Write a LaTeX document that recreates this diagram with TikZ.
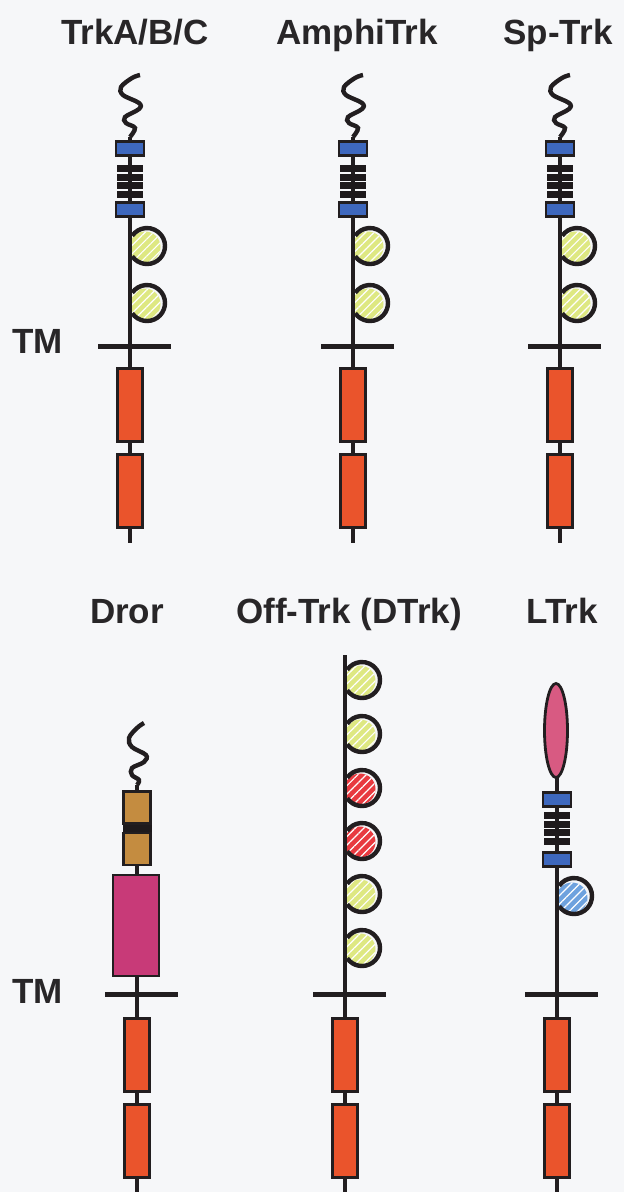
\documentclass[tikz,border=0pt]{standalone}
\usepackage{fontspec}
\setmainfont{Liberation Sans}
\usetikzlibrary{patterns.meta,shapes.geometric}
\definecolor{bgC}{RGB}{246,247,249}
\definecolor{lineC}{RGB}{34,30,32}
\definecolor{labC}{RGB}{40,38,40}
\definecolor{blueC}{RGB}{62,104,190}
\definecolor{stripeC}{RGB}{30,26,28}
\definecolor{yelC}{RGB}{222,232,130}
\definecolor{redcC}{RGB}{232,58,64}
\definecolor{bluelC}{RGB}{110,162,222}
\definecolor{redC}{RGB}{234,84,44}
\definecolor{brownC}{RGB}{196,140,64}
\definecolor{pinkC}{RGB}{200,58,120}
\definecolor{ellC}{RGB}{216,90,130}
\tikzset{
  ln/.style={line width=4.4pt, draw=lineC},
  tm/.style={line width=5pt, draw=lineC},
  box/.style={draw=lineC, line width=2.8pt, inner sep=0pt, rectangle},
  bluebox/.style={box, fill=blueC, minimum width=28pt, minimum height=14pt},
  redbox/.style={box, fill=redC, minimum width=25pt, minimum height=73pt},
  brownbox/.style={box, fill=brownC, minimum width=27pt, minimum height=32pt},
  stripe/.style={fill=stripeC, minimum width=26pt, minimum height=7pt, inner sep=0pt, rectangle},
  dom/.style={circle, minimum size=31pt, inner sep=0pt,
     postaction={pattern={Lines[angle=45,distance=6pt,line width=1.2pt]}, pattern color=white}},
  lab/.style={font=\fontsize{35}{40}\selectfont\bfseries, text=labC, inner sep=0pt, anchor=base},
}
% wave (squiggle) starting at top y=#2 on axis x=#1
\newcommand\mywave[2]{%
  \begin{scope}[shift={(#1,#2)}]
    \draw[ln] plot[smooth,tension=0.6] coordinates {(10,0) (2,3) (-9,12) (-7,20) (9,28) (9,34) (-5,42) (-4,48) (5,53) (0,62)};
  \end{scope}}
% domain loop: #1 axis x, #2 centre y, #3 colour, #4 name
\newcommand\myfill[4]{\node[dom, fill=#3] (#4) at ({#1+15},{#2+1}) {};}
\newcommand\myarc[2]{\draw[ln] ({#1+17},#2) ++(145:18) arc[start angle=145,end angle=-145,radius=18];}
% stripes: #1 axis x, #2 top y, #3 prefix
\newcommand\mystripes[3]{%
  \node[stripe] (#3s1) at (#1,{#2+3.5}) {};
  \node[stripe] (#3s2) at (#1,{#2+12}) {};
  \node[stripe] (#3s3) at (#1,{#2+20.5}) {};
  \node[stripe] (#3s4) at (#1,{#2+29}) {};}
% TM bar and two kinase boxes
\newcommand\mytail[4]{% #1 axis x, #2 TM y, #3 prefix, #4 red1 centre y
  \coordinate (#3tmL) at ({#1-32},#2);
  \coordinate (#3tmR) at ({#1+41},#2);
  \draw[tm] (#3tmL) -- (#3tmR);
  \node[redbox] (#3r1) at (#1,#4) {};
  \node[redbox] (#3r2) at (#1,{#4+86}) {};}
% top-row molecule
\newcommand\topmol[2]{%
  \coordinate (#2top) at (#1,137);
  \coordinate (#2end) at (#1,543);
  \myfill{#1}{246}{yelC}{#2d1}
  \myfill{#1}{303}{yelC}{#2d2}
  \draw[ln] (#2top) -- (#2end);
  \myarc{#1}{246}
  \myarc{#1}{303}
  \mywave{#1}{75}
  \node[bluebox] (#2b1) at (#1,148.5) {};
  \mystripes{#1}{165}{#2}
  \node[bluebox] (#2b2) at (#1,209.5) {};
  \mytail{#1}{346}{#2}{405}}
\begin{document}
\begin{tikzpicture}[x=1pt,y=-1pt]
\fill[bgC] (0,0) rectangle (624,1192);
\useasboundingbox (0,0) rectangle (624,1192);

% ---------- labels ----------
\node[lab] (L1) at (135,44) {TrkA/B/C};
\node[lab] (L2) at (357,44) {AmphiTrk};
\node[lab] (L3) at (558,44) {Sp-Trk};
\node[lab] (L4) at (127,623) {Dror};
\node[lab] (L5) at (349,623) {Off-Trk (DTrk)};
\node[lab] (L6) at (562,623) {LTrk};
\node[lab, anchor=base west] (TM1) at (12,353) {TM};
\node[lab, anchor=base west] (TM2) at (12,1003) {TM};

% ---------- top row ----------
\topmol{130}{ta}
\topmol{353}{tb}
\topmol{560}{tc}

% ---------- Dror ----------
\coordinate (dtop) at (137,785);
\coordinate (dend) at (137,1192);
\draw[ln] (dtop) -- (dend);
\begin{scope}[shift={(137,723)}]
  \draw[ln] plot[smooth,tension=0.6] coordinates {(7,0) (0,5) (-8,15) (-5,24) (9,32) (7,39) (-5,45) (-5,52) (2,57) (0,62)};
\end{scope}
\node[brownbox] (db1) at (137,807.5) {};
\node[fill=stripeC, minimum width=29pt, minimum height=7pt, inner sep=0pt] (dband) at (137,828.5) {};
\node[brownbox] (db2) at (137,849) {};
\node[box, fill=pinkC, minimum width=46pt, minimum height=101pt] (dpink) at (136,925.5) {};
\mytail{137}{994}{d}{1055}

% ---------- Off-Trk ----------
\coordinate (otop) at (345,655);
\coordinate (oend) at (345,1192);
\myfill{345}{680}{yelC}{o1}
\myfill{345}{734}{yelC}{o2}
\myfill{345}{788}{redcC}{o3}
\myfill{345}{841}{redcC}{o4}
\myfill{345}{894}{yelC}{o5}
\myfill{345}{948}{yelC}{o6}
\draw[ln] (otop) -- (oend);
\myarc{345}{680}
\myarc{345}{734}
\myarc{345}{788}
\myarc{345}{841}
\myarc{345}{894}
\myarc{345}{948}
\mytail{345}{994}{o}{1055}

% ---------- LTrk ----------
\coordinate (ltop) at (557,770);
\coordinate (lend) at (557,1192);
\myfill{557}{897}{bluelC}{l1}
\draw[ln] (ltop) -- (lend);
\myarc{557}{896}
\node[ellipse, draw=lineC, line width=2.8pt, fill=ellC, minimum width=23pt, minimum height=94pt, inner sep=0pt] (lell) at (556,730.5) {};
\node[bluebox] (lb1) at (557,799.5) {};
\mystripes{557}{812}{l}
\node[bluebox] (lb2) at (557,859.5) {};
\mytail{557}{994}{l}{1055}
\end{tikzpicture}
\end{document}
